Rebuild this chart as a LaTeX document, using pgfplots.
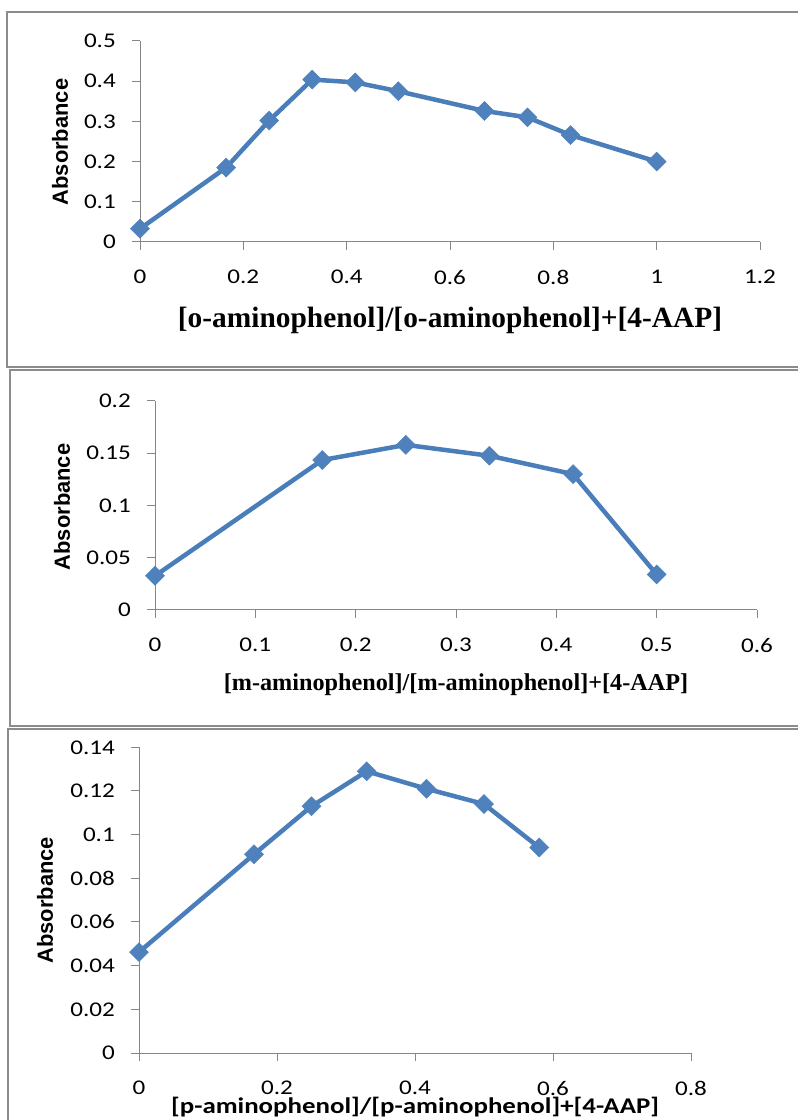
\documentclass[border=0pt]{standalone}
\usepackage{fontspec}
\setmainfont{Carlito}
\newfontfamily\tickf{Carlito}[FakeStretch=1.2]
\newfontfamily\timesf{Liberation Serif}
\newfontfamily\arialf{Liberation Sans}
\usepackage{pgfplots}
\pgfplotsset{compat=1.18}
\definecolor{ser}{HTML}{4A7EBB}
\definecolor{mk}{HTML}{4F81BD}
\definecolor{axg}{HTML}{868686}
\definecolor{brd}{HTML}{8C8C8C}
\pgfplotsset{
 exc/.style={scale only axis, axis lines*=left,
  axis line style={axg, line width=1bp},
  tick align=outside, major tick length=8bp,
  tick style={axg, line width=1bp},
  /pgf/number format/assume math mode=true,
  ticklabel style={font=\tickf\fontsize{21}{24}\selectfont, inner sep=0pt, text=black},
  xticklabel style={anchor=north, yshift=-20bp},
  yticklabel style={anchor=east, xshift=-16bp},
  clip=false,
 },
 ser/.style={color=ser, line width=4.5bp, mark=square*, mark size=6.7bp,
  mark options={rotate=45, fill=mk, draw=mk, line width=0.5bp}},
}
\begin{document}
\begin{tikzpicture}
\path[use as bounding box] (0,0) rectangle (798bp,1120bp);
\fill[white] (0,0) rectangle (798bp,1120bp);
% borders
\draw[brd, line width=2bp] (798bp,1108bp) -- (7bp,1108bp) -- (7bp,753bp) -- (798bp,753bp);
\draw[brd, line width=2bp] (798bp,750bp) -- (10bp,750bp) -- (10bp,394bp) -- (798bp,394bp);
\draw[brd, line width=2bp] (798bp,391bp) -- (8bp,391bp) -- (8bp,0bp);

% Panel 1
\begin{axis}[exc, at={(140bp,878bp)}, anchor=south west, width=620bp, height=201bp,
  xmin=0, xmax=1.2, ymin=0, ymax=0.5,
  xtick={0,0.2,0.4,0.6,0.8,1,1.2}, xticklabels={0,0.2,0.4,0.6,0.8,1,1.2},
  ytick={0,0.1,0.2,0.3,0.4,0.5}, yticklabels={0,0.1,0.2,0.3,0.4,0.5}]
\addplot[ser] coordinates {(0,0.033) (0.1667,0.185) (0.25,0.302) (0.3333,0.404) (0.4167,0.397) (0.5,0.375) (0.6667,0.326) (0.75,0.310) (0.8333,0.266) (1.0,0.200)};
\node[rotate=90, font=\arialf\bfseries\fontsize{22}{24}\selectfont] at (axis description cs:-0.129,0.4975) {Absorbance};
\node[font=\timesf\bfseries\fontsize{29.5}{31}\selectfont] at (axis description cs:0.5,-0.388) {[o-aminophenol]/[o-aminophenol]+[4-AAP]};
\end{axis}

% Panel 2
\begin{axis}[exc, at={(155bp,510bp)}, anchor=south west, width=602bp, height=209bp,
  xmin=0, xmax=0.6, ymin=0, ymax=0.2,
  xtick={0,0.1,0.2,0.3,0.4,0.5,0.6}, xticklabels={0,0.1,0.2,0.3,0.4,0.5,0.6},
  ytick={0,0.05,0.1,0.15,0.2}, yticklabels={0,0.05,0.1,0.15,0.2}]
\addplot[ser] coordinates {(0,0.0327) (0.1667,0.1435) (0.25,0.158) (0.3333,0.1476) (0.4167,0.130) (0.5,0.034)};
\node[rotate=90, font=\arialf\bfseries\fontsize{22}{24}\selectfont] at (axis description cs:-0.1545,0.493) {Absorbance};
\node[font=\timesf\bfseries\fontsize{24.3}{26}\selectfont] at (axis description cs:0.5,-0.359) {[m-aminophenol]/[m-aminophenol]+[4-AAP]};
\end{axis}

% Panel 3
\begin{axis}[exc, at={(139bp,67bp)}, anchor=south west, width=552bp, height=305.7bp,
  xmin=0, xmax=0.8, ymin=0, ymax=0.14,
  xtick={0,0.2,0.4,0.6,0.8}, xticklabels={0,0.2,0.4,0.6,0.8},
  ytick={0,0.02,0.04,0.06,0.08,0.1,0.12,0.14}, yticklabels={0,0.02,0.04,0.06,0.08,0.1,0.12,0.14}]
\addplot[ser] coordinates {(0,0.0462) (0.1667,0.091) (0.25,0.113) (0.33,0.129) (0.4167,0.121) (0.5,0.114) (0.58,0.0941)};
\node[rotate=90, font=\arialf\bfseries\fontsize{22}{24}\selectfont] at (axis description cs:-0.170,0.5) {Absorbance};
\node[font=\tickf\bfseries\fontsize{22.5}{24}\selectfont] at (axis description cs:0.5,-0.1766) {[p-aminophenol]/[p-aminophenol]+[4-AAP]};
\end{axis}
\end{tikzpicture}
\end{document}
